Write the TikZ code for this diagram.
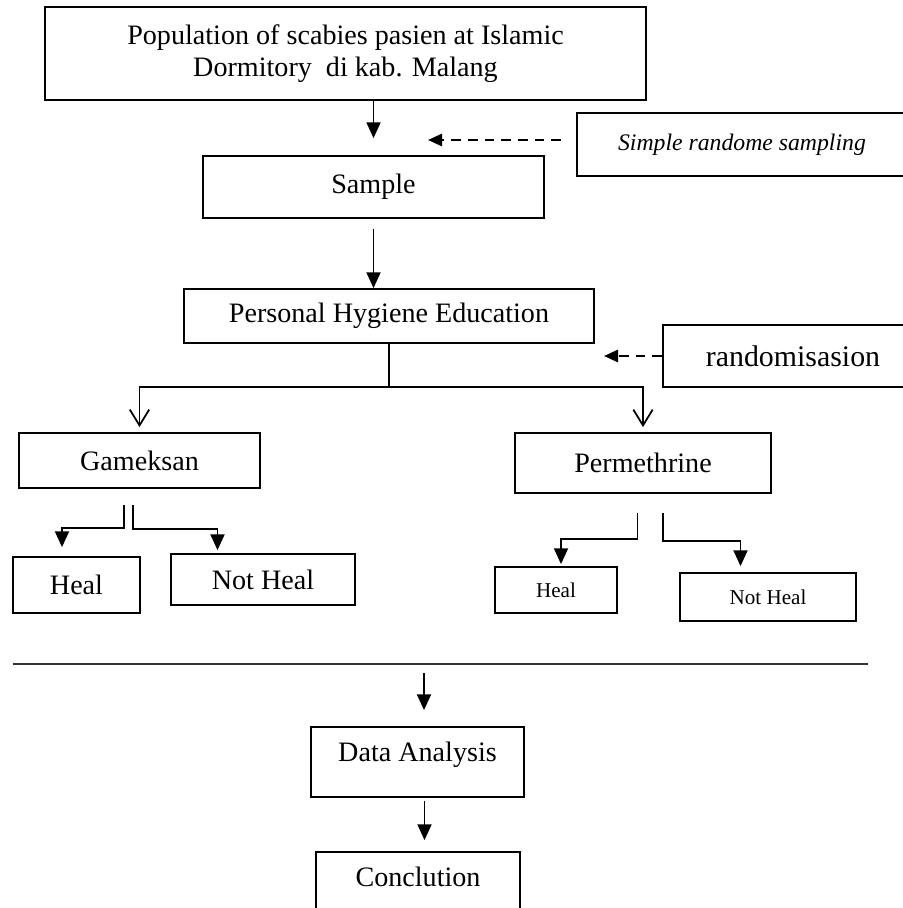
\documentclass[tikz,border=0pt]{standalone}
\usepackage{fontspec}
\setmainfont{Liberation Serif}
\usetikzlibrary{arrows.meta}
\newcommand{\bodysize}{\fontsize{16}{18.2}\selectfont}
\newcommand{\smallsize}{\fontsize{12}{14}\selectfont}
\tikzset{
  box/.style={draw, line width=1pt, inner sep=0pt, align=center, font=\bodysize},
  arr/.style={line width=1pt, -{Triangle[length=9pt,width=8pt]}},
  openarr/.style={line width=1pt, -{Straight Barb[length=9pt,width=11pt]}},
  dasharr/.style={line width=1.2pt, dash pattern=on 5.5pt off 4pt, -{Triangle[length=8pt,width=7pt]}}
}

\begin{document}
\begin{tikzpicture}
    % Page: 902 x 908 px, 50 px to the cm
    \useasboundingbox (0,0) rectangle (18.04,18.16);
    \fill[white] (0,0) rectangle (18.04,18.16);

    % Population and sampling
    \node[box, minimum width=12.02cm, minimum height=1.86cm] (pop) at (6.91,17.09)
      {Population of scabies pasien at Islamic\\Dormitory~ di kab. Malang};
    \node[box, minimum width=6.6cm, minimum height=1.26cm, font=\fontsize{13.5}{16}\selectfont\itshape] (smp) at (14.84,15.27)
      {Simple randome sampling};
    \node[box, minimum width=6.82cm, minimum height=1.24cm] (sample) at (7.47,14.42) {Sample};
    \coordinate (smpTip) at (8.56,15.36);

    % Education and randomisation
    \node[box, minimum width=8.2cm, minimum height=1.08cm] (phe) at (7.78,11.84) {Personal Hygiene Education};
    \node[box, minimum width=5.2cm, minimum height=1.24cm, font=\fontsize{17}{19}\selectfont] (rnd) at (15.86,11.04) {randomisasion};
    \coordinate (rndTip) at (12.08,11.04);
    \coordinate (split) at (7.78,10.42);

    % Treatment groups
    \node[box, minimum width=4.82cm, minimum height=1.1cm] (gam) at (2.79,8.95) {Gameksan};
    \node[box, minimum width=5.12cm, minimum height=1.2cm] (per) at (12.86,8.90) {Permethrine};

    % Outcomes
    \node[box, minimum width=2.54cm, minimum height=1.12cm] (gh) at (1.53,6.46) {Heal};
    \node[box, minimum width=3.68cm, minimum height=1.02cm] (gnh) at (5.26,6.57) {Not Heal};
    \node[box, minimum width=2.44cm, minimum height=0.92cm, font=\smallsize] (ph) at (11.12,6.36) {Heal};
    \node[box, minimum width=3.52cm, minimum height=0.96cm, font=\smallsize] (pnh) at (15.36,6.22) {Not Heal};
    \coordinate (gamL) at (2.48,8.06);
    \coordinate (gamR) at (2.66,8.06);
    \coordinate (perL) at (12.75,7.9);
    \coordinate (perR) at (13.26,7.9);

    % Analysis
    \node[box, minimum width=4.26cm, minimum height=1.4cm, text depth=0.42cm] (da) at (8.35,2.92) {Data Analysis};
    \node[box, minimum width=4.08cm, minimum height=1.4cm, text depth=0.42cm] (con) at (8.36,0.42) {Conclution};
    \coordinate (sepL) at (0.26,4.88);
    \coordinate (sepR) at (17.36,4.88);
    \coordinate (daArr) at (8.48,4.70);

    % Connectors
    \draw[arr, shorten >=0.34cm] (pop.south -| sample.north) -- (sample.north);
    \draw[dasharr, shorten <=0.3cm] ([yshift=0.09cm]smp.west) -- (smpTip);
    \draw[arr, shorten <=0.2cm] (sample.south) -- (sample.south |- phe.north);
    \draw[dasharr] (rnd.west) -- (rndTip);
    \draw[line width=1pt] (phe.south) -- (split);
    \draw[openarr, shorten >=0.1cm] (split) -| (gam.north);
    \draw[openarr, shorten >=0.1cm] (split) -| (per.north);

    \draw[arr, shorten >=0.18cm] (gamL) -- ++(0,-0.46) -| ([xshift=-0.29cm]gh.north);
    \draw[arr, shorten >=0.06cm] (gamR) -- ++(0,-0.48) -| ([xshift=-0.91cm]gnh.north);
    \draw[arr, shorten >=0.04cm] (perL) -- ++(0,-0.52) -| ([xshift=0.1cm]ph.north);
    \draw[arr, shorten >=0.12cm] (perR) -- ++(0,-0.56) -| ([xshift=-0.55cm]pnh.north);

    \draw[line width=1.2pt, black!80] (sepL) -- (sepR);
    \draw[arr, shorten >=0.32cm] (daArr) -- (daArr |- da.north);
    \draw[arr, shorten <=0.06cm, shorten >=0.22cm] ([xshift=0.14cm]da.south) -- ([xshift=0.14cm]da.south |- con.north);

  \end{tikzpicture}
\end{document}
